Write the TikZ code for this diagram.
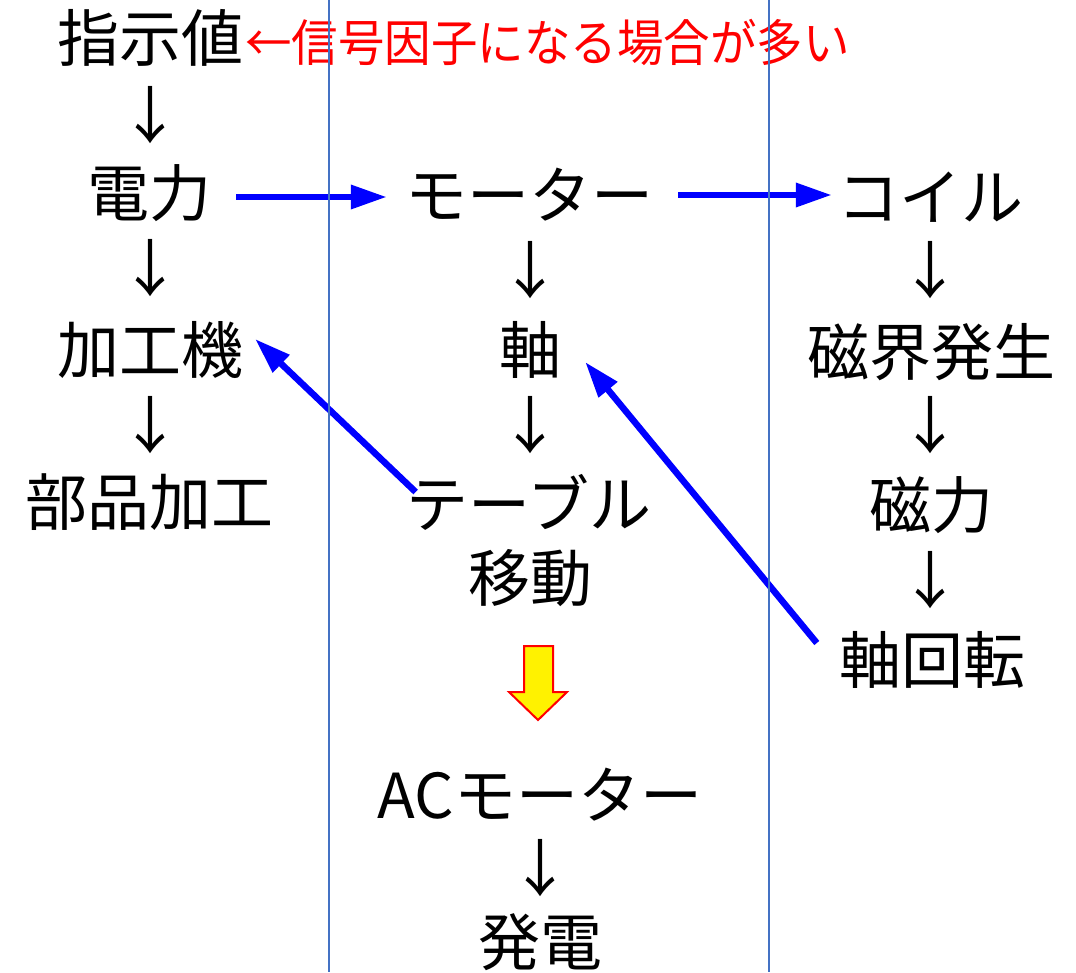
\documentclass[tikz,border=0pt]{standalone}
\usepackage{fontspec}
\setmainfont{Noto Sans CJK JP}
\usetikzlibrary{arrows.meta}
\definecolor{vline}{HTML}{4472C4}
\tikzset{
  lbl/.style={inner sep=0pt, font=\fontsize{62}{70}\selectfont},
  note/.style={inner sep=0pt, text=red, font=\fontsize{50}{58}\selectfont, xscale=0.93},
  dn/.style={inner sep=0pt, font=\fontsize{62}{70}\selectfont},
  blu/.style={draw=blue, line width=6.5pt, -{Triangle[length=36pt,width=23pt]}},
  sep/.style={draw=vline, line width=1.8pt},
  blockarrow/.style={draw=red, line width=2pt, fill=yellow, line join=miter}
}
\begin{document}
\begin{tikzpicture}[x=1pt,y=-1pt]
\useasboundingbox (0,0) rectangle (1076,972);
% left column
\node[lbl] (shiji) at (150,38) {指示値};
\node[note, anchor=west] (note) at (245,42) {←信号因子になる場合が多い};
\node[dn] (a1) at (150,115) {↓};
\node[lbl] (denryoku) at (149,193) {電力};
\node[dn] (a2) at (150,268) {↓};
\node[lbl] (kakouki) at (150,350) {加工機};
\node[dn] (a3) at (150,425) {↓};
\node[lbl] (buhin) at (149,502) {部品加工};
% middle column
\node[lbl] (motor) at (529,195) {モーター};
\node[dn] (b1) at (530,270) {↓};
\node[lbl] (jiku) at (530,350) {軸};
\node[dn] (b2) at (530,425) {↓};
\node[lbl] (table) at (529,502) {テーブル};
\node[lbl] (idou) at (530,578) {移動};
\node[lbl] (acmotor) at (540,795) {ACモーター};
\node[dn] (b3) at (540,868) {↓};
\node[lbl] (hatsuden) at (540,942) {発電};
% right column
\node[lbl] (coil) at (930,197) {コイル};
\node[dn] (c1) at (930,270) {↓};
\node[lbl] (jikai) at (931,352) {磁界発生};
\node[dn] (c2) at (930,425) {↓};
\node[lbl] (jiryoku) at (931,505) {磁力};
\node[dn] (c3) at (930,580) {↓};
\node[lbl] (jikukaiten) at (932,660) {軸回転};
% blue arrows
\draw[blu] ([xshift=25pt,yshift=-4pt]denryoku.east) -- ([xshift=-18pt,yshift=-2pt]motor.west);
\draw[blu] ([xshift=25pt]motor.east) -- ([xshift=-5pt,yshift=2pt]coil.west);
\draw[blu] ([xshift=9pt,yshift=10pt]table.west) -- ([xshift=12pt,yshift=11pt]kakouki.east);
\draw[blu] ([xshift=-22pt,yshift=17pt]jikukaiten.west) -- ([xshift=24pt,yshift=-12pt]jiku.east);
% yellow block arrow
\coordinate (ytip) at (538,720);
\path[blockarrow] (524,646) -- (553,646) -- (553,692) -- (567,692) -- (ytip) -- (509,692) -- (524,692) -- cycle;
% separators
\draw[sep] (329,0) -- (329,972);
\draw[sep] (769,0) -- (769,972);
\end{tikzpicture}
\end{document}
